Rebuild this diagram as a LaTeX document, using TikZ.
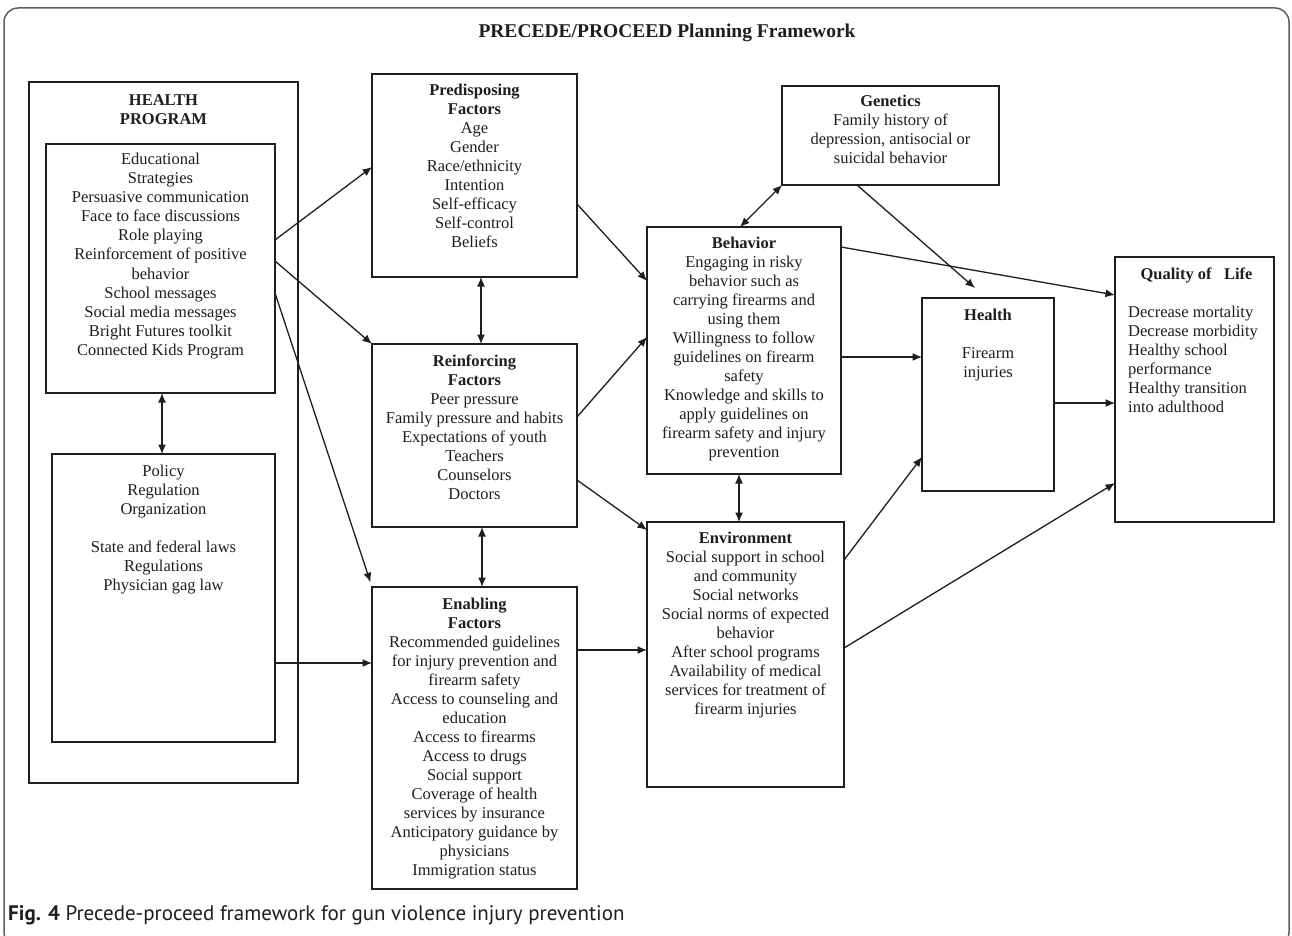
\documentclass[tikz,border=0pt]{standalone}
\usepackage{fontspec}
\setmainfont{Liberation Serif}
\newfontfamily\capfont{PT Sans}
\usetikzlibrary{arrows.meta,calc}
\definecolor{framec}{RGB}{95,95,95}
\definecolor{inkc}{RGB}{30,30,30}
\newcommand{\mlc}[1]{\begin{tabular}[t]{@{}c@{}}#1\end{tabular}}
\newcommand{\mll}[1]{\begin{tabular}[t]{@{}l@{}}#1\end{tabular}}
\tikzset{
  box/.style={draw=inkc, line width=1.3pt, inner sep=0pt, outer sep=0pt, anchor=north west, rectangle},
  txt/.style={inner sep=0pt, anchor=base, text=inkc, font=\fontsize{16.5}{19}\selectfont},
  ltxt/.style={inner sep=0pt, anchor=base west, text=inkc, font=\fontsize{16.5}{19}\selectfont},
  conn/.style={draw=inkc, line width=1.3pt, -{Latex[length=9.5pt,width=8pt]}},
  dconn/.style={draw=inkc, line width=1.3pt, {Latex[length=9.5pt,width=8pt]}-{Latex[length=9.5pt,width=8pt]}}
}
\begin{document}
\begin{tikzpicture}[x=1pt,y=-1pt]
\useasboundingbox (0,0) rectangle (1292,936);
\clip (0,0) rectangle (1292,936);
\fill[white] (0,0) rectangle (1292,936);
\draw[framec, line width=1.5pt, rounded corners=14pt] (4,8) rectangle (1289,946);

\node[txt, font=\fontsize{19.5}{22}\selectfont\bfseries] (title) at (667,38) {PRECEDE/PROCEED Planning Framework};

% boxes
\node[box, minimum width=269, minimum height=701] (hp) at (29,82) {};
\node[box, minimum width=229, minimum height=249] (ed) at (46,144) {};
\node[box, minimum width=223, minimum height=288] (pol) at (52,454) {};
\node[box, minimum width=205, minimum height=203] (pre) at (372,74) {};
\node[box, minimum width=205, minimum height=183] (rei) at (372,344) {};
\node[box, minimum width=205, minimum height=302] (ena) at (372,587) {};
\node[box, minimum width=217, minimum height=99] (gen) at (782,86) {};
\node[box, minimum width=194, minimum height=247] (beh) at (647,227) {};
\node[box, minimum width=197, minimum height=265] (env) at (647,522) {};
\node[box, minimum width=132, minimum height=193] (hea) at (922,298) {};
\node[box, minimum width=159, minimum height=265] (qol) at (1115,257) {};

% texts
\node[txt] (hpt) at ($(hp.north)+(0,24)$) {\mlc{\textbf{HEALTH}\\\textbf{PROGRAM}}};
\node[txt] (edt) at ($(ed.north)+(0,21)$) {\mlc{Educational\\Strategies\\Persuasive communication\\Face to face discussions\\Role playing\\Reinforcement of positive\\behavior\\School messages\\Social media messages\\Bright Futures toolkit\\Connected Kids Program}};
\node[txt] (polt) at ($(pol.north)+(0,22)$) {\mlc{Policy\\Regulation\\Organization\\[19pt]State and federal laws\\Regulations\\Physician gag law}};
\node[txt] (pret) at ($(pre.north)+(0,22)$) {\mlc{\textbf{Predisposing}\\\textbf{Factors}\\Age\\Gender\\Race/ethnicity\\Intention\\Self-efficacy\\Self-control\\Beliefs}};
\node[txt] (reit) at ($(rei.north)+(0,22)$) {\mlc{\textbf{Reinforcing}\\\textbf{Factors}\\Peer pressure\\Family pressure and habits\\Expectations of youth\\Teachers\\Counselors\\Doctors}};
\node[txt] (enat) at ($(ena.north)+(0,22)$) {\mlc{\textbf{Enabling}\\\textbf{Factors}\\Recommended guidelines\\for injury prevention and\\firearm safety\\Access to counseling and\\education\\Access to firearms\\Access to drugs\\Social support\\Coverage of health\\services by insurance\\Anticipatory guidance by\\physicians\\Immigration status}};
\node[txt] (gent) at ($(gen.north)+(0,21)$) {\mlc{\textbf{Genetics}\\Family history of\\depression, antisocial or\\suicidal behavior}};
\node[txt] (beht) at ($(beh.north)+(0,21)$) {\mlc{\textbf{Behavior}\\Engaging in risky\\behavior such as\\carrying firearms and\\using them\\Willingness to follow\\guidelines on firearm\\safety\\Knowledge and skills to\\apply guidelines on\\firearm safety and injury\\prevention}};
\node[txt] (envt) at ($(env.north)+(0,21)$) {\mlc{\textbf{Environment}\\Social support in school\\and community\\Social networks\\Social norms of expected\\behavior\\After school programs\\Availability of medical\\services for treatment of\\firearm injuries}};
\node[txt] (heat) at ($(hea.north)+(0,22)$) {\mlc{\textbf{Health}\\[19pt]Firearm\\injuries}};
\node[txt] (qolt) at ($(qol.north)+(2,22)$) {\textbf{Quality of\ \ \ Life}};
\node[ltxt] (qoll) at ($(qol.north west)+(13,60)$) {\mll{Decrease mortality\\Decrease morbidity\\Healthy school\\performance\\Healthy transition\\into adulthood}};

% connectors
\draw[conn] (ed.east |- 0,240) -- (pre.west |- 0,167);
\draw[conn] (ed.east |- 0,261) -- (rei.north west);
\draw[conn, shorten >=5pt] (ed.east |- 0,293) -- (ena.north west);
\draw[conn] (pol.east |- 0,663) -- (ena.west |- 0,663);
\draw[conn] (pre.east |- 0,204) -- (beh.west |- 0,281);
\draw[conn] (rei.east |- 0,417) -- (beh.west |- 0,337);
\draw[conn] (rei.east |- 0,480) -- (env.west |- 0,530);
\draw[conn] (ena.east |- 0,650) -- (env.west |- 0,650);
\draw[conn] (beh.east |- 0,247) -- (qol.west |- 0,295);
\draw[conn] (gen.south -| 857,0) -- ($(hea.north west)+(53,-10)$);
\draw[conn] (beh.east |- 0,357) -- (hea.west |- 0,357);
\draw[conn] (env.east |- 0,560) -- (hea.west |- 0,457);
\draw[conn] (env.east |- 0,648) -- (qol.west |- 0,483);
\draw[conn] (hea.east |- 0,403) -- (qol.west |- 0,403);
\draw[dconn] (ed.south -| 162,0) -- (pol.north -| 162,0);
\draw[dconn] (pre.south -| 481,0) -- (rei.north -| 481,0);
\draw[dconn] (rei.south -| 482,0) -- (ena.north -| 482,0);
\draw[dconn] (beh.south -| 739,0) -- (env.north -| 739,0);
\draw[dconn] (beh.north -| 740,0) -- (gen.south west);

\node[inner sep=0pt, anchor=base west, text=inkc, font=\capfont\fontsize{21}{25}\selectfont] (cap) at (8,920) {\textbf{Fig. 4} Precede-proceed framework for gun violence injury prevention};
\end{tikzpicture}
\end{document}
